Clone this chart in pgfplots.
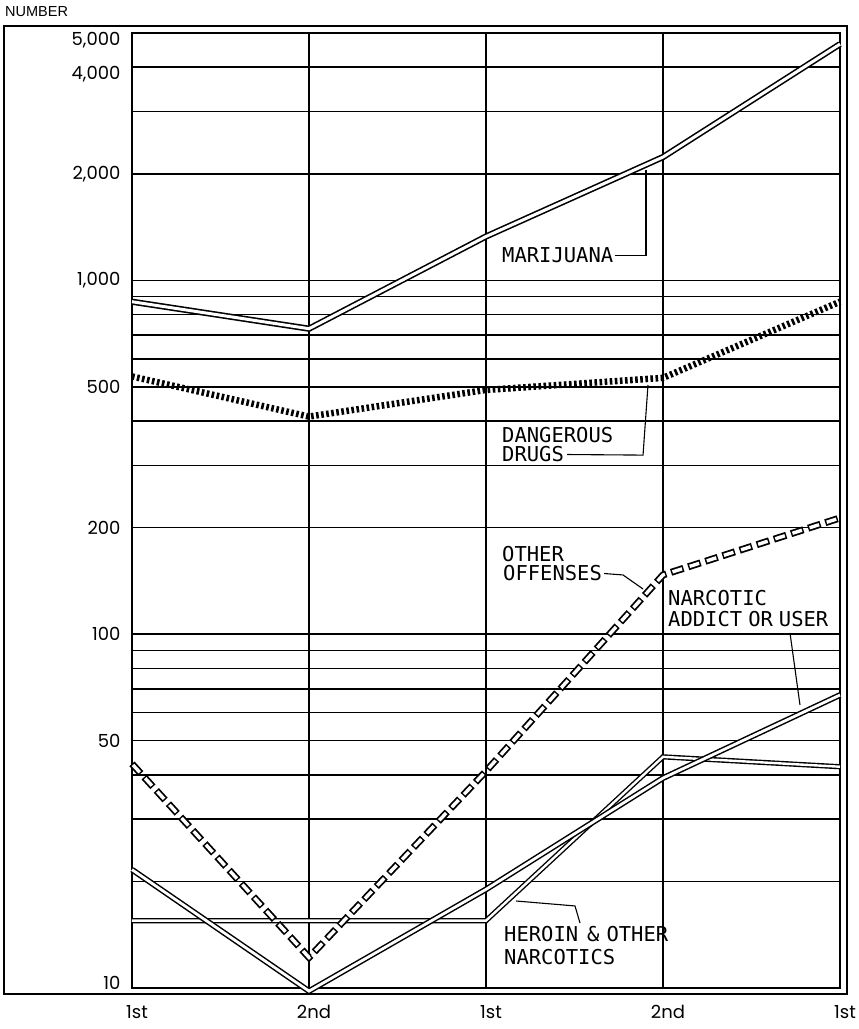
\documentclass[border=0pt]{standalone}
\usepackage{pgfplots}
\pgfplotsset{compat=1.18}
\usepackage{fontspec}
\setmainfont{Liberation Sans}
\newfontfamily\tickfont{Poppins}
\newfontfamily\labfont{DejaVu Sans Mono}

% half-year arrest counts
\pgfplotstableread{
x   mar   dan   oth    nar   her
0   870   535   43     21.6  15.5
1   730   412   12.2   9.8   15.5
2   1330  490   41     19    15.5
3   2230  530   147    39.2  45
4   4650  870   213    67.3  42.2
}\drugs

\begin{document}
\begin{tikzpicture}
\begin{axis}[
  name=ax,
  scale only axis, width=708pt, height=955pt,
  ymode=log, ymin=10, ymax=5000, xmin=0, xmax=4,
  xtick={0,...,4}, xticklabels={1st,2nd,1st,2nd,1st},
  ytick={10,20,30,40,50,60,70,80,90,100,200,300,400,500,600,700,800,900,1000,2000,3000,4000,5000},
  yticklabels={\raisebox{5pt}[\height][\depth]{10},,,,50,,,,,100,200,,,500,,,,,{1,000},{2,000},,
    \raisebox{-7pt}[\height][\depth]{4,000},\raisebox{-7pt}[\height][\depth]{5,000}},
  grid=major, major grid style={black, line width=1.6pt},
  major tick length=0pt, minor tick length=0pt,
  axis line style={black, line width=1.6pt},
  clip=false,
  /pgf/number format/assume math mode=true,
  yticklabel style={font=\tickfont\fontsize{18}{20}\selectfont, anchor=east, xshift=-8pt},
  xticklabel style={font=\tickfont\fontsize{18}{20}\selectfont, anchor=north, yshift=-14pt, xshift=5pt},
]
% marijuana
\addplot[black, line width=1.6pt, double=white, double distance=3pt] table[x=x, y=mar] {\drugs};
% dangerous drugs
\addplot[black, line width=6.5pt, dash pattern=on 2.6pt off 2.5pt] table[x=x, y=dan] {\drugs};
% heroin and other narcotics
\addplot[black, line width=1.4pt, double=white, double distance=2.4pt] table[x=x, y=her] {\drugs};
% narcotic addict or user
\addplot[black, line width=1.5pt, double=white, double distance=2.8pt] table[x=x, y=nar] {\drugs};
% other offenses
\addplot[black, line width=7pt, dash pattern=on 13pt off 5pt] table[x=x, y=oth] {\drugs};
\addplot[white, line width=3.4pt, dash pattern=on 10pt off 8pt, dash phase=16.5pt] table[x=x, y=oth] {\drugs};

% labels and leaders (rel axis: x=(px-132)/708, y=(988-py)/955)
\begin{scope}[every node/.style={font=\labfont\fontsize{20.5}{20}\selectfont, inner sep=0pt, anchor=base west}]
\node (m) at (rel axis cs:0.5226,0.7592) {MARIJUANA};
\node at (rel axis cs:0.5226,0.5717) {DANGEROUS};
\node (d) at (rel axis cs:0.5226,0.5508) {DRUGS};
\node at (rel axis cs:0.5226,0.4471) {OTHER};
\node (o) at (rel axis cs:0.5240,0.4262) {OFFENSES};
\node at (rel axis cs:0.7571,0.4010) {NARCOTIC};
\node at (rel axis cs:0.7571,0.3780) {ADDICT\hspace{6pt}OR\hspace{6pt}USER};
\node at (rel axis cs:0.5254,0.0492) {HEROIN\hspace{9pt}\&\hspace{7pt}OTHER};
\node at (rel axis cs:0.5254,0.0241) {NARCOTICS};
\end{scope}
\draw[black, line width=1.1pt]
  ([xshift=2pt]m.east) -| (rel axis cs:0.7260,0.8565);
\draw[black, line width=1.1pt]
  ([xshift=3pt]d.east) -- (rel axis cs:0.7218,0.5580) -- (rel axis cs:0.7288,0.6314);
\draw[black, line width=1.1pt]
  ([xshift=2pt]o.east) -- (rel axis cs:0.6935,0.4325) -- (rel axis cs:0.7218,0.4178);
\draw[black, line width=1.1pt]
  (rel axis cs:0.9294,0.3717) -- (rel axis cs:0.9435,0.2963);
\draw[black, line width=1.1pt]
  (rel axis cs:0.5424,0.0911) -- (rel axis cs:0.6257,0.0859) -- (rel axis cs:0.6328,0.0680);

% outer frame and NUMBER heading
\draw[black, line width=1.6pt]
  ([xshift=-128pt,yshift=-6pt]rel axis cs:0,0) rectangle ([xshift=7pt,yshift=7pt]rel axis cs:1,1);
\node[font=\fontsize{14.5}{14}\selectfont, inner sep=0pt, anchor=base west]
  at ([xshift=-127pt,yshift=16pt]rel axis cs:0,1) {NUMBER};
\end{axis}
\pgfresetboundingbox
\path ([xshift=-132pt,yshift=-41pt]ax.south west) rectangle ([xshift=19pt,yshift=33pt]ax.north east);
\end{tikzpicture}
\end{document}
